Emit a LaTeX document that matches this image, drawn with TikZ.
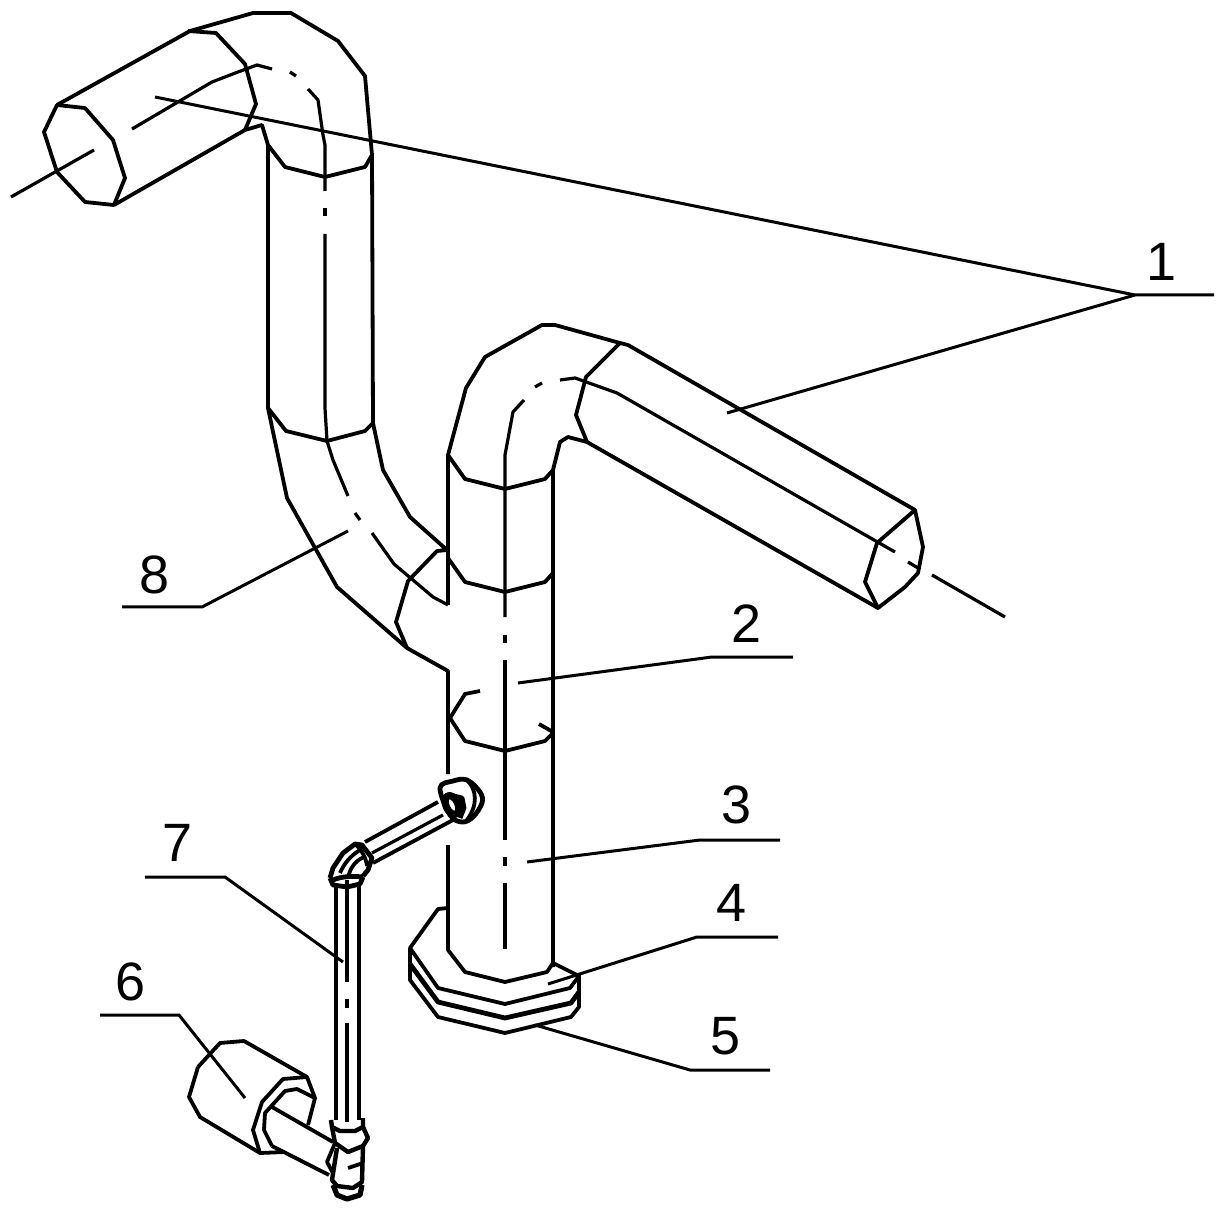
\documentclass[tikz,border=0pt]{standalone}
\usepackage{fontspec}
\setmainfont{Liberation Sans}
\tikzset{
	pipeline/.style={line width=1.9pt,line join=round},
	thinline/.style={line width=1.6pt,line join=round},
	leader/.style={line width=1.5pt},
	partno/.style={font=\fontsize{27}{27}\selectfont,inner sep=0pt}
}
\begin{document}
\begin{tikzpicture}[x=0.5pt,y=-0.5pt]
	\useasboundingbox (0,0) rectangle (1228,1214);
	% upper pipe
	\draw[pipeline] (57,105) -- (85,108) -- (113,140) -- (125,178) -- (114,205) -- (85,202) -- (57,172) -- (44,132) -- cycle;
	\draw[pipeline] (57,105) -- (190,31) -- (253,13) -- (291,13) -- (338,41) -- (365,76) -- (372,155) -- (373,423) -- (383,470) -- (410,517) -- (447,550) -- (437,551) -- (408,581) -- (396,622) -- (407,648);
	\draw[pipeline] (114,205) -- (245,130) -- (262,125) -- (268,145) -- (268,408) -- (287,498) -- (337,587) -- (407,648) -- (448,671) -- (448,774);
	\draw[pipeline] (188,31) -- (216,33) -- (245,64) -- (256,104) -- (245,130);
	\draw[pipeline] (268,145) -- (285,167) -- (325,177) -- (365,167) -- (372,155);
	\draw[pipeline] (268,408) -- (286,431) -- (327,441) -- (365,431) -- (373,423);
	% centre line of the upper pipe
	\draw[thinline] (11,197) -- (94,150);
	\draw[thinline] (132,129) -- (212,82) -- (238,72) -- (257,65) -- (272,69);
	\draw[thinline] (290,72) -- (296,76);
	\draw[thinline] (308,89) -- (318,100) -- (323,135) -- (325,145) -- (325,191);
	\draw[thinline] (325,208) -- (325,216);
	\draw[thinline] (325,234) -- (325,408) -- (327,441) -- (333,460) -- (348,496);
	\draw[thinline] (355,513) -- (360,520);
	\draw[thinline] (372,533) -- (394,564) -- (433,597) -- (448,605);
	% riser and upper right pipe
	\draw[pipeline] (448,605) -- (448,455) -- (466,388) -- (485,357) -- (542,325) -- (555,325) -- (620,343) -- (628,345) -- (915,510);
	\draw[pipeline] (553,967) -- (553,470) -- (560,442) -- (568,437) -- (587,442) -- (878,608);
	\draw[pipeline] (620,343) -- (586,377) -- (576,415) -- (587,442);
	\draw[pipeline] (915,510) -- (877,543) -- (865,582) -- (878,608) -- (905,587) -- (918,573) -- (923,547) -- cycle;
	\draw[pipeline] (448,455) -- (465,479) -- (505,489) -- (545,479) -- (553,470);
	\draw[pipeline] (448,558) -- (465,582) -- (505,592) -- (545,582) -- (553,573);
	\draw[pipeline] (450,718) -- (465,741) -- (505,751) -- (545,741) -- (553,733);
	\draw[pipeline] (480,691) -- (465,694) -- (450,718);
	\draw[pipeline] (539,724) -- (553,732);
	\draw[pipeline] (448,845) -- (448,950) -- (465,972) -- (505,982) -- (547,972) -- (553,963);
	% centre line of the riser
	\draw[thinline] (524,400) -- (513,412) -- (505,455) -- (505,617);
	\draw[thinline] (505,635) -- (505,643);
	\draw[thinline] (505,660) -- (505,840);
	\draw[thinline] (505,857) -- (505,866);
	\draw[thinline] (505,883) -- (505,949);
	\draw[thinline] (535,387) -- (542,383);
	\draw[thinline] (560,380) -- (575,378) -- (617,393) -- (895,552);
	\draw[thinline] (908,562) -- (918,568);
	\draw[thinline] (932,575) -- (1005,617);
	% base plates
	\draw[pipeline] (448,908) -- (438,909) -- (410,948) -- (438,988) -- (505,1004) -- (570,988) -- (579,976) -- (553,963);
	\draw[pipeline,line width=2.4pt] (410,964) -- (438,1002) -- (505,1018) -- (571,1003) -- (579,992);
	\draw[pipeline] (410,948) -- (410,980) -- (438,1017) -- (505,1033) -- (571,1017) -- (579,1007) -- (579,976);
	% connecting tube
	\draw[pipeline] (365,842) -- (438,802);
	\draw[pipeline] (373,863) -- (453,820);
	\draw[thinline] (372,853) -- (443,815);
	\draw[pipeline,line width=2.4pt] plot[smooth cycle,tension=0.6] coordinates {(440,788) (453,781) (467,780) (480,792) (482,803) (473,817) (462,822) (450,815)};
	\draw[pipeline] (467,780) .. controls (477,790) and (478,805) .. (467,820);
	\draw[pipeline,line width=3.6pt,rotate around={25:(452,805)}] (452,805) ellipse[x radius=6,y radius=10];
	\draw[pipeline,line width=2.4pt] (450,795) -- (462,798) -- (464,808) -- (460,818);
	% elbow of the tube
	\draw[pipeline,line width=2.4pt] (330,878) -- (333,868) -- (343,853) -- (355,844) -- (362,845) -- (372,858) -- (368,870) -- (363,876);
	\draw[pipeline,line width=2.4pt] (330,878) -- (333,885) -- (347,887) -- (360,884) -- (363,877);
	\draw[pipeline,line width=2.4pt] (333,880) .. controls (342,876) and (354,876) .. (363,877);
	\draw[pipeline] (340,873) .. controls (344,864) and (350,856) .. (360,850);
	\draw[pipeline] (348,878) .. controls (350,868) and (355,861) .. (364,857);
	\draw[pipeline] (355,844) .. controls (362,850) and (366,858) .. (367,866);
	\draw[pipeline] (336,886) -- (336,1120);
	\draw[pipeline] (359,886) -- (359,1120);
	\draw[thinline] (347,880) -- (347,982);
	\draw[thinline] (347,999) -- (347,1008);
	\draw[thinline] (347,1023) -- (347,1122);
	% fitting at the foot of the tube
	\draw[pipeline,line width=2.2pt] (331,1120) -- (332,1127) -- (340,1131) -- (355,1131) -- (363,1127) -- (363,1118);
	\draw[pipeline,line width=2.2pt] (363,1127) -- (368,1138) -- (363,1146) -- (348,1152) -- (335,1143) -- (332,1127);
	\draw[pipeline,line width=2.2pt] (337,1148) -- (332,1180) -- (337,1186) -- (353,1188) -- (362,1182) -- (363,1146);
	\draw[pipeline] (335,1143) -- (327,1162) -- (333,1173);
	\draw[pipeline] (348,1168) -- (363,1163);
	\draw[pipeline,line width=2.6pt] (333,1185) -- (337,1195) -- (347,1199) -- (360,1195) -- (362,1185);
	% motor
	\draw[pipeline] (198,1067) -- (220,1043) -- (244,1041) -- (307,1077) -- (315,1098) -- (308,1125);
	\draw[pipeline] (198,1067) -- (189,1097) -- (200,1117) -- (260,1153) -- (285,1152);
	\draw[pipeline] (307,1077) -- (283,1079) -- (262,1102) -- (253,1130) -- (260,1153);
	\draw[pipeline] (315,1098) -- (297,1089) -- (285,1091) -- (265,1113) -- (264,1130) -- (272,1146);
	\draw[pipeline] (272,1107) -- (333,1142);
	\draw[pipeline] (272,1146) -- (329,1175);
	% part numbers and leaders
	\node[partno] (no1) at (1162,262) {1};
	\node[partno] (no2) at (747,624) {2};
	\node[partno] (no3) at (737,805) {3};
	\node[partno] (no4) at (732,903) {4};
	\node[partno] (no5) at (726,1036) {5};
	\node[partno] (no6) at (131,982) {6};
	\node[partno] (no7) at (178,843) {7};
	\node[partno] (no8) at (155,575) {8};
	\coordinate (knee1) at (1135,295);
	\draw[leader] (155,97) -- (knee1) -- (1214,295);
	\draw[leader] (727,413) -- (knee1);
	\draw[leader] (518,683) -- (712,657) -- (793,657);
	\draw[leader] (527,862) -- (700,840) -- (780,840);
	\draw[leader] (548,984) -- (697,937) -- (778,937);
	\draw[leader] (535,1025) -- (690,1070) -- (770,1070);
	\draw[leader] (245,1098) -- (179,1015) -- (100,1015);
	\draw[leader] (343,962) -- (225,877) -- (145,877);
	\draw[leader] (348,531) -- (202,607) -- (122,607);
\end{tikzpicture}
\end{document}
